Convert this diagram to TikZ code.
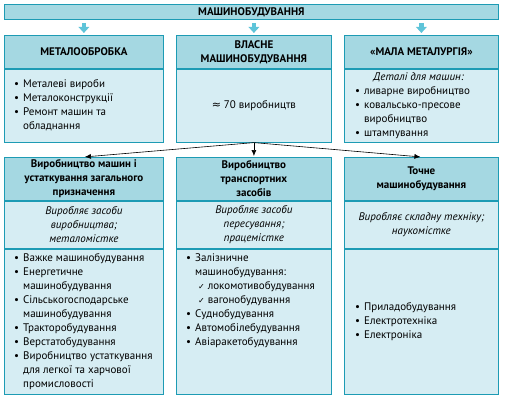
\documentclass[tikz,border=0pt]{standalone}
\usepackage{fontspec}
\setmainfont{PT Sans}
\newfontfamily\symfont{DejaVu Sans}
\usetikzlibrary{arrows.meta}
\definecolor{hdblue}{HTML}{A5D8E2}
\definecolor{bdblue}{HTML}{D6EDF3}
\definecolor{lnteal}{HTML}{1D9BB4}
\definecolor{arblue}{HTML}{5EC4D9}
\newcommand{\blt}{\textbullet}
\newcommand{\chk}{{\symfont\footnotesize ✓}}
\tikzset{
  box/.style={draw=lnteal,line width=0.8pt,anchor=north west,inner sep=0pt,
    align=center,font=\fontsize{11}{14}\selectfont},
  head/.style={box,fill=hdblue,font=\fontsize{11}{14}\selectfont\bfseries},
  body/.style={box,fill=bdblue},
  note/.style={body,font=\fontsize{11}{14}\selectfont\itshape},
  list/.style={inner sep=0pt,font=\fontsize{11}{14}\selectfont},
  fat/.style={arblue,line width=4.5pt,-{Triangle[width=10.5pt,length=6pt]},
    shorten <=3pt,shorten >=2pt},
  link/.style={-{Latex[length=6pt,width=5pt]},line width=0.6pt,shorten >=1pt}
}
\begin{document}
\begin{tikzpicture}[x=1pt,y=-1pt]
\useasboundingbox (0,0) rectangle (511,401);
\node[head,minimum width=494pt,minimum height=15pt] (mb) at (4,4) {МАШИНОБУДУВАННЯ};

\node[head,minimum width=159pt,minimum height=33pt] (h1) at (4,35) {МЕТАЛООБРОБКА};
\node[head,minimum width=155pt,minimum height=33pt] (h2) at (176,35) {ВЛАСНЕ\\МАШИНОБУДУВАННЯ};
\node[head,minimum width=154pt,minimum height=33pt] (h3) at (344,35) {«МАЛА МЕТАЛУРГІЯ»};
\draw[fat] (mb.south -| h1.north) -- (h1.north);
\draw[fat] (mb.south -| h2.north) -- (h2.north);
\draw[fat] (mb.south -| h3.north) -- (h3.north);

\node[body,minimum width=159pt,minimum height=73pt] (b1) at (h1.south west) {};
\node[list,anchor=west] (b1t) at ([xshift=10pt]b1.west) {\begin{tabular}{@{}l@{\hspace{4pt}}l@{}}
  \blt & Металеві вироби\\
  \blt & Металоконструкції\\
  \blt & Ремонт машин та\\
       & обладнання
\end{tabular}};
\node[body,minimum width=155pt,minimum height=73pt] (b2) at (h2.south west) {{\symfont ≈} 70 виробництв};
\node[body,minimum width=154pt,minimum height=73pt] (b3) at (h3.south west) {};
\node[list,anchor=west] (b3t) at ([xshift=11pt]b3.west) {\begin{tabular}{@{}l@{\hspace{4pt}}l@{}}
  \multicolumn{2}{@{\hspace{12pt}}c@{}}{\itshape Деталі для машин:}\\
  \blt & ливарне виробництво\\
  \blt & ковальсько-пресове\\
       & виробництво\\
  \blt & штампування
\end{tabular}};

\node[head,minimum width=159pt,minimum height=43pt] (g1) at (4,157) {Виробництво машин і\\устаткування загального\\призначення};
\node[head,minimum width=155pt,minimum height=43pt] (g2) at (176,157) {Виробництво\\транспортних\\засобів};
\node[head,minimum width=154pt,minimum height=43pt] (g3) at (344,157) {Точне\\машинобудування};
\draw[link] (b2.south) -- (g1.north);
\draw[link] (b2.south) -- (g2.north);
\draw[link] (b2.south) -- (g3.north);

\node[note,minimum width=159pt,minimum height=47pt] (g1n) at (g1.south west) {Виробляє засоби\\виробництва;\\металомістке};
\node[note,minimum width=155pt,minimum height=47pt] (g2n) at (g2.south west) {Виробляє засоби\\пересування;\\працемістке};
\node[note,minimum width=154pt,minimum height=47pt] (g3n) at (g3.south west) {Виробляє складну техніку;\\наукомістке};

\node[body,minimum width=159pt,minimum height=145pt] (g1l) at (g1n.south west) {};
\node[list,anchor=west] (g1t) at ([xshift=10pt]g1l.west) {\begin{tabular}{@{}l@{\hspace{4pt}}l@{}}
  \blt & Важке машинобудування\\
  \blt & Енергетичне\\
       & машинобудування\\
  \blt & Сільськогосподарське\\
       & машинобудування\\
  \blt & Тракторобудування\\
  \blt & Верстатобудування\\
  \blt & Виробництво устаткування\\
       & для легкої та харчової\\
       & промисловості
\end{tabular}};
\node[body,minimum width=155pt,minimum height=145pt] (g2l) at (g2n.south west) {};
\node[list,anchor=north west] (g2t) at ([xshift=10pt,yshift=-3pt]g2l.north west) {\begin{tabular}{@{}l@{\hspace{4pt}}l@{}}
  \blt & Залізничне\\
       & машинобудування:\\
       & \hspace{3pt}\chk\ локомотивобудування\\
       & \hspace{3pt}\chk\ вагонобудування\\
  \blt & Суднобудування\\
  \blt & Автомобілебудування\\
  \blt & Авіаракетобудування
\end{tabular}};
\node[body,minimum width=154pt,minimum height=145pt] (g3l) at (g3n.south west) {};
\node[list,anchor=west] (g3t) at ([xshift=11pt]g3l.west) {\begin{tabular}{@{}l@{\hspace{4pt}}l@{}}
  \blt & Приладобудування\\
  \blt & Електротехніка\\
  \blt & Електроніка
\end{tabular}};
\end{tikzpicture}
\end{document}
